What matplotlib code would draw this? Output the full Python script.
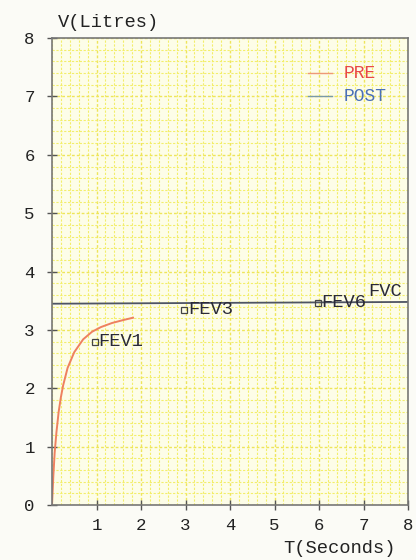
import numpy as np
import matplotlib.pyplot as plt
from matplotlib.ticker import MultipleLocator

# PRE volume-time curve
t_pre = [0.0, 0.03, 0.06, 0.1, 0.15, 0.2, 0.25, 0.35, 0.5, 0.7, 0.9, 1.1, 1.35, 1.6, 1.82]
v_pre = [0.0, 0.5, 0.9, 1.25, 1.6, 1.85, 2.05, 2.35, 2.62, 2.84, 2.97, 3.05, 3.12, 3.17, 3.21]

# POST curve shown as flat line at FVC level
t_post = [0.0, 8.0]
v_post = [3.45, 3.48]

# marker points
mark_names = ['FEV1', 'FEV3', 'FEV6']
mark_t = [0.97, 2.97, 5.97]
mark_v = [2.8, 3.35, 3.47]
fvc_t, fvc_v = 7.1, 3.52

plt.rcParams['font.family'] = ['Liberation Mono', 'DejaVu Sans Mono']

fig = plt.figure(figsize=(4.16, 5.6), dpi=100)
fig.patch.set_facecolor('#fbfbf6')
ax = fig.add_axes([0.125, 0.098, 0.856, 0.834])
ax.set_facecolor('#fdfde8')

ax.set_xlim(0, 8)
ax.set_ylim(0, 8)
ax.xaxis.set_major_locator(MultipleLocator(1))
ax.yaxis.set_major_locator(MultipleLocator(1))
ax.xaxis.set_minor_locator(MultipleLocator(0.2))
ax.yaxis.set_minor_locator(MultipleLocator(0.2))
ax.grid(which='minor', color='#f3ee6a', linestyle=(0, (2, 1.5)), linewidth=0.8)
ax.grid(which='major', color='#eee55a', linestyle=(0, (2, 1.5)), linewidth=1.0)
ax.set_axisbelow(True)
ax.tick_params(which='minor', length=0)
ax.tick_params(which='major', direction='inout', length=7, width=1, color='#555555',
               labelsize=12.5, labelcolor='#222222')
ax.tick_params(axis='y', pad=9)
ax.tick_params(axis='x', pad=6)
ax.set_xticks(range(1, 9))
for s in ax.spines.values():
    s.set_color('#777777')
    s.set_linewidth(1.2)

ax.plot(t_post, v_post, color='#4e5464', lw=1.3)
ax.plot(t_pre, v_pre, color='#ee8060', lw=1.4)

for n, x, y in zip(mark_names, mark_t, mark_v):
    ax.plot(x, y, marker='s', ms=4.5, mfc='none', mec='#444444', mew=0.9)
    ax.text(x + 0.08, y, n, fontsize=13.5, color='#2a2a38', va='center', ha='left')
ax.text(fvc_t, fvc_v, 'FVC', fontsize=13.5, color='#2a2a38', va='bottom', ha='left')

# legend drawn by hand
ax.plot([5.75, 6.3], [7.4, 7.4], color='#ee9977', lw=1.0)
ax.text(6.55, 7.4, 'PRE', color='#e84848', fontsize=13, va='center')
ax.plot([5.75, 6.3], [7.0, 7.0], color='#7a9aa8', lw=1.0)
ax.text(6.55, 7.0, 'POST', color='#4a70b8', fontsize=13, va='center')

fig.text(0.14, 0.96, 'V(Litres)', fontsize=13.5, color='#222222', ha='left', va='center')
fig.text(0.952, 0.021, 'T(Seconds)', fontsize=13.5, color='#222222', ha='right', va='center')

fig.savefig('out.png', dpi=100, facecolor=fig.get_facecolor())
